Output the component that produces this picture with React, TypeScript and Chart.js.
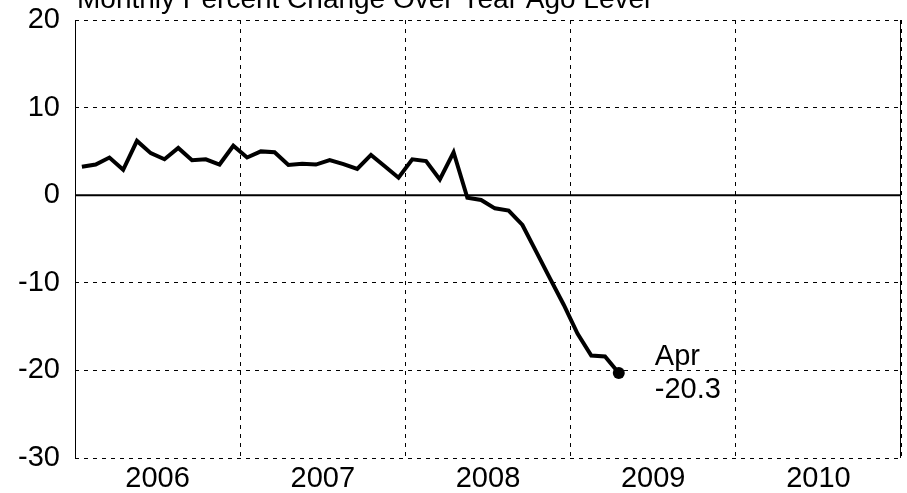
import React, { useEffect, useRef } from 'react';
import { Chart, registerables } from 'chart.js';

Chart.register(...registerables);

const titleText = 'Monthly Percent Change Over Year Ago Level';
const years = ['2006', '2007', '2008', '2009', '2010'];
const values2006 = [3.25, 3.5, 4.3, 2.9, 6.2, 4.8, 4.1, 5.4, 4.0, 4.1, 3.5, 5.65];
const values2007 = [4.3, 5.0, 4.9, 3.45, 3.6, 3.5, 4.0, 3.55, 3.0, 4.6, 3.3, 2.0];
const values2008 = [4.1, 3.9, 1.8, 4.9, -0.3, -0.55, -1.5, -1.75, -3.4, -6.45, -9.5, -12.5];
const values2009 = [-15.8, -18.3, -18.4, -20.3];
const values = [...values2006, ...values2007, ...values2008, ...values2009];
const yMin = -30;
const yMax = 20;
const yStep = 10;
const lastLabel = 'Apr';

const FONT = '"Liberation Sans", Arial, Helvetica, sans-serif';
const FONT_SIZE = 29;
const TITLE_SIZE = 28;

export default function App() {
  const ref = useRef<HTMLCanvasElement | null>(null);

  useEffect(() => {
    const canvas = ref.current;
    if (!canvas) return;
    const monthsTotal = years.length * 12;
    const lastIdx = values.length - 1;

    const decor = {
      id: 'decor',
      beforeDatasetsDraw(chart: any) {
        const { ctx, chartArea, scales } = chart;
        ctx.save();
        ctx.setLineDash([]);
        ctx.strokeStyle = '#000';
        ctx.lineWidth = 1;
        ctx.beginPath();
        ctx.moveTo(chartArea.left + 0.5, chartArea.top);
        ctx.lineTo(chartArea.left + 0.5, chartArea.bottom);
        ctx.moveTo(chartArea.right - 0.5, chartArea.top);
        ctx.lineTo(chartArea.right - 0.5, chartArea.bottom);
        ctx.stroke();
        const y0 = scales.y.getPixelForValue(0);
        ctx.lineWidth = 2;
        ctx.beginPath();
        ctx.moveTo(chartArea.left, y0);
        ctx.lineTo(chartArea.right, y0);
        ctx.stroke();
        ctx.restore();
      },
      afterDatasetsDraw(chart: any) {
        const { ctx } = chart;
        const pt = chart.getDatasetMeta(0).data[lastIdx];
        ctx.save();
        ctx.fillStyle = '#000';
        ctx.font = `${FONT_SIZE}px ${FONT}`;
        ctx.textAlign = 'left';
        ctx.textBaseline = 'alphabetic';
        ctx.fillText(lastLabel, pt.x + 36, pt.y - 8);
        ctx.fillText(values[lastIdx].toFixed(1), pt.x + 36, pt.y + 25);
        ctx.restore();
      },
      afterDraw(chart: any) {
        const { ctx } = chart;
        ctx.save();
        ctx.fillStyle = '#000';
        ctx.font = `${TITLE_SIZE}px ${FONT}`;
        ctx.textAlign = 'left';
        ctx.textBaseline = 'alphabetic';
        ctx.fillText(titleText, 77, 8);
        ctx.restore();
      },
    };

    const chart = new Chart(canvas, {
      type: 'line',
      data: {
        datasets: [
          {
            data: values.map((v, i) => ({ x: i + 0.5, y: v })),
            borderColor: '#000',
            backgroundColor: '#000',
            borderWidth: 4,
            tension: 0,
            fill: false,
            pointRadius: (c: any) => (c.dataIndex === lastIdx ? 6 : 0),
            pointHoverRadius: 0,
            pointBackgroundColor: '#000',
            pointBorderWidth: 0,
          },
        ],
      },
      options: {
        animation: false,
        responsive: false,
        devicePixelRatio: 1,
        events: [],
        layout: { padding: { left: 0, right: 5, top: 20, bottom: 0 } },
        plugins: {
          legend: { display: false },
          tooltip: { enabled: false },
          title: { display: false },
        },
        scales: {
          x: {
            type: 'linear',
            min: 0,
            max: monthsTotal,
            afterBuildTicks: (s: any) => {
              const t = [];
              for (let v = 0; v <= monthsTotal; v += 6) t.push({ value: v });
              s.ticks = t;
            },
            afterFit: (s: any) => {
              s.height = 35;
              s.paddingLeft = 0;
              s.paddingRight = 0;
            },
            ticks: {
              autoSkip: false,
              maxRotation: 0,
              minRotation: 0,
              padding: 4,
              color: '#000',
              font: { family: FONT, size: FONT_SIZE },
              callback: (v: any) => (v % 12 === 6 ? years[(v - 6) / 12] : ''),
            },
            grid: {
              drawTicks: false,
              lineWidth: 1,
              color: (c: any) =>
                c.tick && c.tick.value % 12 === 0 ? '#000' : 'rgba(0,0,0,0)',
            },
            border: { display: false, dash: [4, 5] },
          },
          y: {
            type: 'linear',
            min: yMin,
            max: yMax,
            afterFit: (s: any) => {
              s.width = 75;
              s.paddingTop = 0;
              s.paddingBottom = 0;
            },
            ticks: {
              stepSize: yStep,
              padding: 15,
              color: '#000',
              font: { family: FONT, size: FONT_SIZE },
            },
            grid: {
              drawTicks: false,
              lineWidth: 1,
              color: '#000',
            },
            border: { display: false, dash: [4, 5] },
          },
        },
      },
      plugins: [decor],
    } as any);

    return () => chart.destroy();
  }, []);

  return (
    <div style={{ position: 'fixed', left: 0, top: 0, width: 907, height: 493, background: '#fff' }}>
      <canvas ref={ref} width={907} height={493} style={{ display: 'block', width: 907, height: 493 }} />
    </div>
  );
}
